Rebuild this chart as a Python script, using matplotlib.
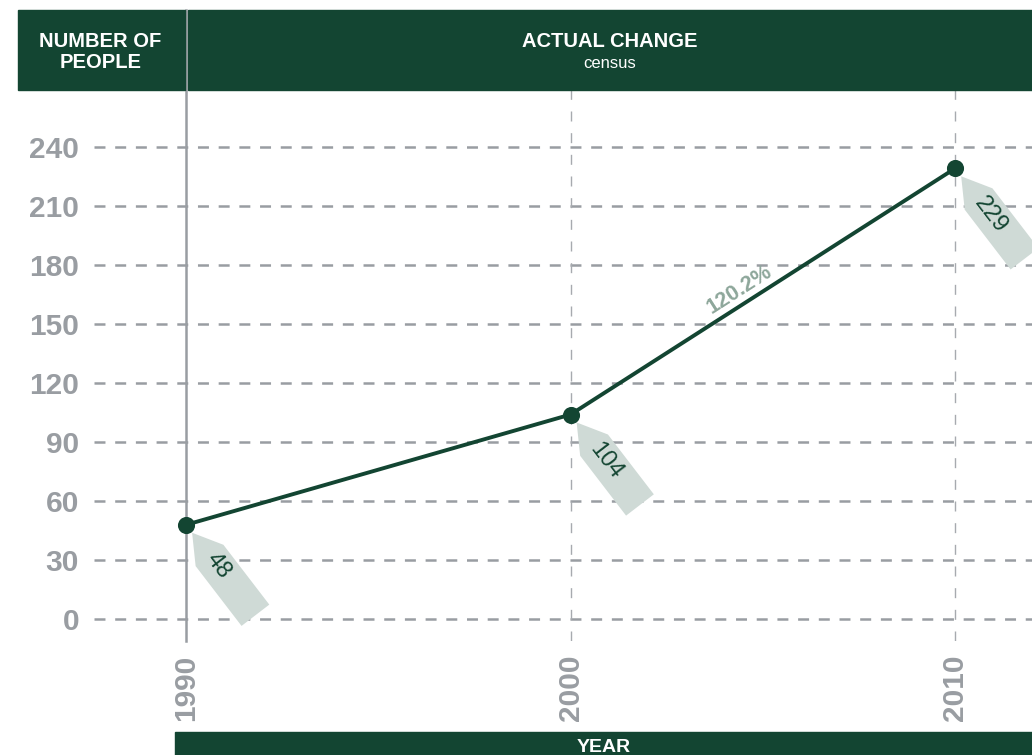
#! /bin/python
# Census change chart

import matplotlib
matplotlib.use("Agg")
import matplotlib.pyplot as plt
import matplotlib.transforms as mtransforms
from matplotlib.patches import Polygon, Rectangle
import numpy as np

# Data
years = [1990, 2000, 2010]
people = [48, 104, 229]
point_labels = ["48", "104", "229"]
change_label = "120.2%"
yticks = [0, 30, 60, 90, 120, 150, 180, 210, 240]

# Colours
green = "#134532"
gray = "#999da2"
vgray = "#a7aaaf"
tag_col = "#cfdad6"
pct_col = "#8ea79b"

plt.rcParams["font.family"] = ["Liberation Sans", "DejaVu Sans"]
plt.rcParams["lines.scale_dashes"] = False

W, H = 1032, 755
fig = plt.figure(figsize=(W / 100, H / 100), dpi=100)

def fx(px):
    return px / W

def fy(py):
    return 1 - py / H

# Plot area (pixel layout of the reference)
ax = fig.add_axes([fx(94), fy(641), fx(1032) - fx(94), fy(90) - fy(641)])
ax.set_xlim(1987.607, 2012.0)
ax.set_ylim(-11.0, 268.8)
for s in ax.spines.values():
    s.set_visible(False)

# Grid
for v in yticks:
    ax.axhline(v, color=gray, lw=1.8, dashes=(7.9, 7.0), zorder=1)
for yr in years[1:]:
    ax.axvline(yr, color=vgray, lw=1.0, dashes=(7.2, 8.4), zorder=1)
ax.axvline(years[0], ymin=0, ymax=(641 - 10) / (641 - 90), color=gray,
           lw=1.8, clip_on=False, zorder=2)

# Ticks
ax.set_yticks(yticks)
ax.set_yticklabels([str(v) for v in yticks], fontsize=21.5,
                   fontweight="bold", color=gray)
ax.set_xticks(years)
ax.set_xticklabels([str(y) for y in years], fontsize=21.5,
                   fontweight="bold", color=gray, rotation=90)
ax.tick_params(axis="y", length=0, pad=10.8)
ax.tick_params(axis="x", length=0, pad=10)

# Line
ax.plot(years, people, color=green, lw=2.8, zorder=3)
ax.plot(years, people, "o", color=green, ms=11.3, zorder=5)

# Value tags
ang = -52.5
tag_shape = [(10, 0), (38.6, 17.5), (114, 17.5), (114, -17.5), (38.6, -17.5)]
ca, sa = np.cos(np.radians(ang)), np.sin(np.radians(ang))
for x, y, lab in zip(years, people, point_labels):
    trans = (mtransforms.Affine2D().rotate_deg(ang).scale(1 / fig.dpi)
             + fig.dpi_scale_trans
             + mtransforms.ScaledTranslation(x, y, ax.transData))
    ax.add_patch(Polygon(tag_shape, closed=True, transform=trans,
                         facecolor=tag_col, edgecolor="none", zorder=4,
                         clip_on=False))
    ax.annotate(lab, (x, y), xytext=(39 * ca, 39 * sa),
                textcoords="offset pixels", rotation=ang,
                rotation_mode="anchor", ha="left", va="center",
                fontsize=17, color=green, zorder=6, annotation_clip=False)

# Percent change label along the 2000-2010 segment
p0 = ax.transData.transform((years[1], people[1]))
p1 = ax.transData.transform((years[2], people[2]))
theta = np.degrees(np.arctan2(p1[1] - p0[1], p1[0] - p0[0]))
t = 0.46
mx = years[1] + t * (years[2] - years[1])
my = people[1] + t * (people[2] - people[1])
off = 14
ax.annotate(change_label, (mx, my),
            xytext=(-off * np.sin(np.radians(theta)), off * np.cos(np.radians(theta))),
            textcoords="offset pixels", rotation=theta, rotation_mode="anchor",
            ha="center", va="center", fontsize=15.5, fontweight="bold",
            color=pct_col, zorder=6)

# Header bars
fig.add_artist(Rectangle((fx(18), fy(90)), fx(185) - fx(18), fy(10) - fy(90),
                         transform=fig.transFigure, color=green, zorder=1))
fig.add_artist(Rectangle((fx(188), fy(90)), fx(1040) - fx(188), fy(10) - fy(90),
                         transform=fig.transFigure, color=green, zorder=1))
fig.text(fx(100.5), fy(46.7), "NUMBER OF", ha="center", va="baseline",
         color="white", fontweight="bold", fontsize=14.5)
fig.text(fx(100.5), fy(68.3), "PEOPLE", ha="center", va="baseline",
         color="white", fontweight="bold", fontsize=14.5)
fig.text(fx(610), fy(46.7), "ACTUAL CHANGE", ha="center", va="baseline",
         color="white", fontweight="bold", fontsize=14.5)
fig.text(fx(610), fy(68.3), "census", ha="center", va="baseline",
         color="white", fontsize=12)

# Bottom bar
fig.add_artist(Rectangle((fx(175), fy(770)), fx(1040) - fx(175), fy(732) - fy(770),
                         transform=fig.transFigure, color=green, zorder=1))
fig.text(fx(604), fy(751.5), "YEAR", ha="center", va="baseline",
         color="white", fontweight="bold", fontsize=14)

fig.savefig("out.png", dpi=100)
